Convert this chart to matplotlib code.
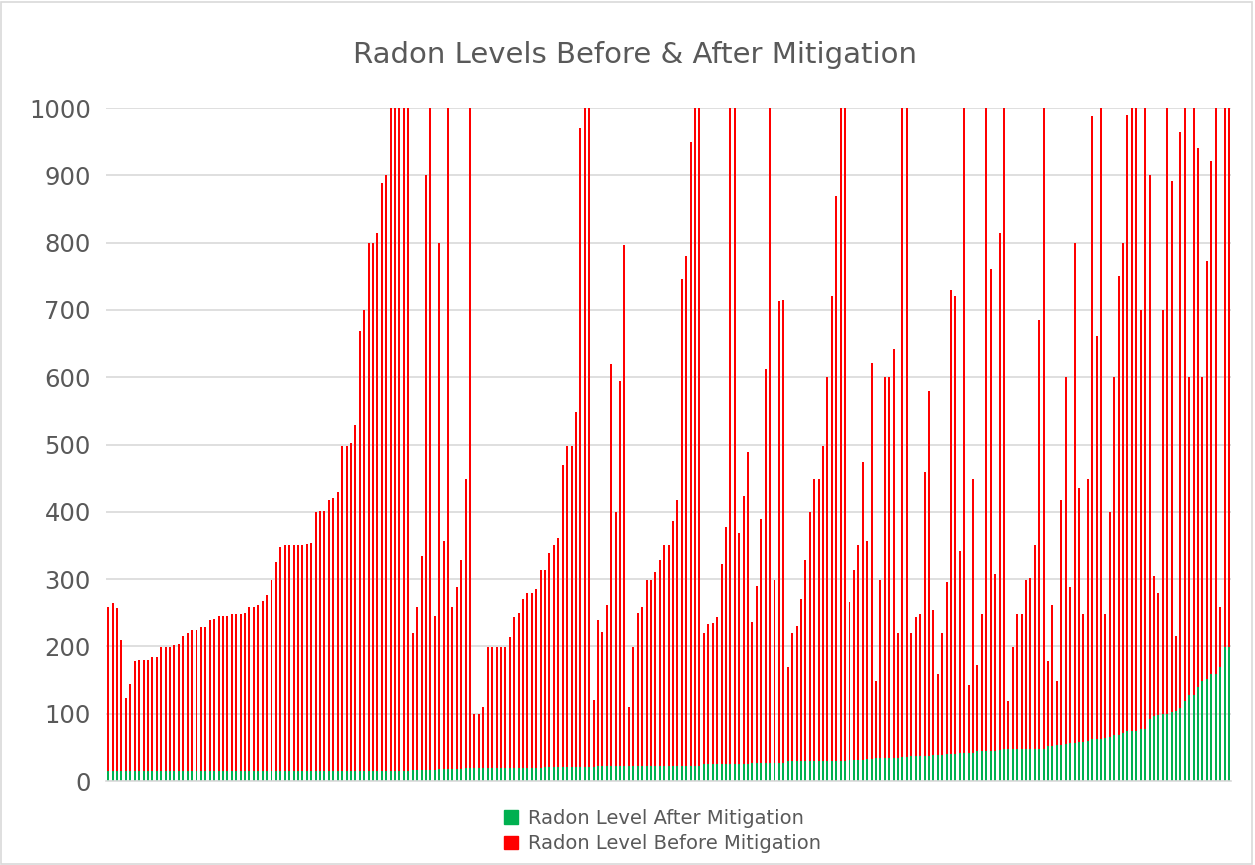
import matplotlib
matplotlib.use("Agg")
import matplotlib.pyplot as plt
from matplotlib.patches import Patch, Rectangle

GREEN = "#00B050"
RED = "#FF0000"
MUT = "#595959"
HAIR = "#D9D9D9"

# Radon level before mitigation (bars above 1000 are cut off by the axis)
before_mitigation = [
    259, 264, 257, 210, 123, 144, 178, 180, 180, 180, 184, 184, 199, 199, 199, 202, 204, 216, 220, 224, 224,
    229, 229, 239, 241, 245, 245, 245, 248, 248, 248, 250, 258, 258, 262, 268, 277, 298, 325, 348, 350, 350, 350,
    350, 350, 352, 354, 399, 401, 401, 418, 421, 430, 498, 498, 503, 529, 669, 700, 799, 799, 814, 889, 900,
    1000, 1000, 1000, 1000, 1000, 220, 259, 334, 900, 1000, 245, 799, 357, 1000, 259, 289, 329, 449, 1000, 100, 100, 110,
    199, 199, 199, 199, 199, 214, 243, 249, 270, 280, 280, 285, 314, 314, 339, 350, 361, 470, 498, 498, 549,
    970, 1000, 1000, 120, 239, 222, 262, 620, 399, 595, 797, 110, 199, 249, 259, 298, 298, 310, 329, 350, 350, 386,
    418, 746, 780, 950, 1000, 1000, 220, 233, 235, 243, 323, 378, 1000, 1000, 369, 424, 489, 237, 290, 390, 612,
    1000, 298, 713, 715, 169, 220, 230, 270, 329, 399, 449, 449, 498, 600, 721, 870, 1000, 1000, 266, 314, 350, 474,
    357, 621, 149, 298, 600, 600, 642, 220, 1000, 1000, 220, 243, 248, 459, 579, 254, 159, 220, 296, 730, 721, 342,
    1000, 143, 449, 172, 248, 1000, 761, 308, 814, 1000, 119, 199, 248, 248, 298, 302, 350, 685, 1000, 179, 262,
    149, 418, 601, 289, 799, 436, 248, 449, 988, 662, 1000, 248, 399, 600, 750, 799, 990, 1000, 1000, 700, 1000, 900,
    304, 279, 700, 1000, 892, 216, 965, 1000, 600, 1000, 940, 600, 772, 921, 1000, 259, 1000, 1000,
]

# Radon level after mitigation
after_mitigation = [
    15, 15, 15, 15, 15, 15, 15, 15, 15, 15, 15, 15, 15, 15, 15, 15, 15, 15, 15, 15, 15,
    15, 15, 15, 15, 15, 15, 15, 15, 15, 15, 15, 15, 15, 15, 15, 15, 15, 15, 15, 15, 15, 15,
    15, 15, 15, 15, 15, 15, 15, 15, 15, 15, 15, 15, 15, 15, 15, 15, 15, 15, 15, 15, 15,
    15, 15, 15, 15, 15, 16, 16, 16, 17, 17, 17, 18, 18, 18, 18, 18, 18, 19, 19, 20, 20, 20,
    20, 20, 20, 20, 20, 20, 20, 20, 20, 20, 20, 20, 20, 21, 21, 21, 21, 21, 21, 21, 21,
    21, 21, 21, 21, 22, 22, 22, 22, 22, 22, 22, 23, 23, 23, 23, 23, 23, 23, 23, 23, 23, 23,
    23, 23, 23, 23, 23, 23, 25, 25, 25, 25, 25, 25, 25, 25, 25, 25, 25, 27, 27, 27, 27,
    27, 27, 27, 27, 29, 29, 29, 29, 29, 29, 30, 30, 30, 30, 30, 30, 30, 30, 31, 31, 31, 31,
    32, 32, 34, 34, 34, 34, 34, 34, 35, 35, 37, 37, 37, 37, 37, 38, 39, 39, 40, 40, 40, 41,
    42, 42, 42, 44, 44, 44, 45, 45, 46, 47, 47, 47, 48, 48, 48, 48, 48, 48, 48, 52, 52,
    54, 54, 55, 56, 56, 58, 58, 60, 63, 63, 63, 64, 65, 68, 69, 71, 74, 74, 75, 78, 78, 92,
    96, 98, 100, 100, 102, 104, 108, 119, 128, 128, 139, 149, 151, 159, 159, 169, 199, 199,
]

y_ticks = [0, 100, 200, 300, 400, 500, 600, 700, 800, 900, 1000]

fig = plt.figure(figsize=(12.55, 8.65), dpi=100)
fig.patches.append(Rectangle((0.001, 0.001), 0.997, 0.997, transform=fig.transFigure,
                             fill=False, edgecolor=HAIR, linewidth=1.2))
ax = fig.add_axes([0.0845, 0.0971, 0.8965, 0.778])

x = list(range(len(before_mitigation)))
# "before" sits behind, "after" is drawn over it (100% overlap)
ax.bar(x, before_mitigation, 0.45, color=RED, linewidth=0)
ax.bar(x, after_mitigation, 0.45, color=GREEN, linewidth=0)

ax.set_xlim(-0.5, len(x) - 0.5)
ax.set_ylim(0, 1000)
ax.set_yticks(y_ticks)
ax.set_xticks([])
for sp in ["top", "right", "left"]:
    ax.spines[sp].set_visible(False)
ax.spines["bottom"].set_color(HAIR)
ax.spines["bottom"].set_linewidth(1.2)
ax.grid(axis="y", color=HAIR, linewidth=1.2)
ax.set_axisbelow(True)
ax.tick_params(axis="y", length=0, pad=11, labelsize=17.5, labelcolor=MUT)

fig.text(0.506, 1 - 55 / 865, "Radon Levels Before & After Mitigation",
         ha="center", va="center", fontsize=21, color=MUT)

handles = [Patch(color=GREEN), Patch(color=RED)]
labels = ["Radon Level After Mitigation", "Radon Level Before Mitigation"]
lg = fig.legend(handles, labels, loc="center", bbox_to_anchor=(0.528, 1 - 831 / 865),
                frameon=False, fontsize=14, handlelength=0.7, handleheight=0.7,
                handletextpad=0.5, labelspacing=0.35)
for t in lg.get_texts():
    t.set_color(MUT)

fig.savefig("out.png", dpi=100, facecolor="white")
